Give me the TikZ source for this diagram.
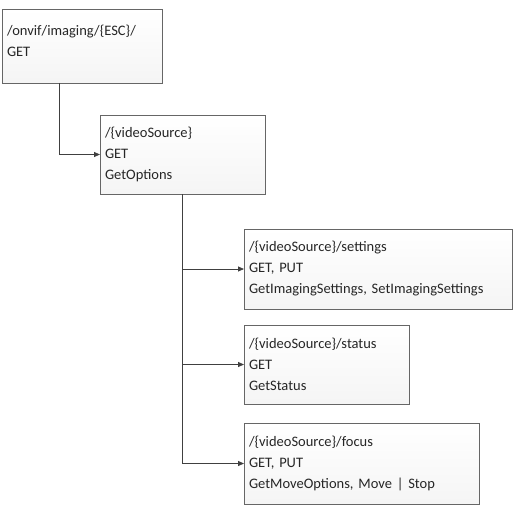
\documentclass[tikz,border=0pt]{standalone}
\usepackage{fontspec}
\setmainfont{Carlito}
\usetikzlibrary{arrows.meta, positioning, calc, shadows}

\begin{document}
\begin{tikzpicture}[x=1pt, y=-1pt,
    box/.style={draw=black!60, top color=white, bottom color=black!4, drop shadow={opacity=0.2, shadow xshift=1.2pt, shadow yshift=-1.2pt}, anchor=north west, align=left, text=black!85, font=\fontsize{14.5}{21}\selectfont, inner xsep=5pt, inner ysep=0pt, outer sep=0pt, minimum height=79pt},
    link/.style={draw=black!75, line width=0.8pt, -{Triangle[length=6pt, width=5pt]}},
  ]
    \useasboundingbox[fill=white] (0,0) rectangle (519,508);
    % ── Resource boxes ──
    \node[box, text width=150pt, minimum height=74pt] (root) at (2,9) {/onvif/imaging/\{ESC\}/\\GET\\[-11pt]\mbox{}};
    \node[box, text width=155pt] (src) at (100,115) {/\{videoSource\}\\GET\\GetOptions};
    \node[box, text width=258pt, minimum height=80pt] (settings) at (244,229) {/\{videoSource\}/settings\\GET, PUT\\GetImagingSettings, SetImagingSettings};
    \node[box, text width=155pt] (status) at (244,325) {/\{videoSource\}/status\\GET\\GetStatus};
    \node[box, text width=225pt, minimum height=81pt] (focus) at (244,423) {/\{videoSource\}/focus\\GET, PUT\\GetMoveOptions, Move | Stop};
    % ── Connectors ──
    \coordinate (rootdrop) at ($(root.south west)+(57,0)$);
    \draw[link] (rootdrop) |- (src.west);
    \draw[link] (src.south) |- (settings.west);
    \draw[link] (src.south) |- (status.west);
    \draw[link] (src.south) |- (focus.west);
\end{tikzpicture}
\end{document}
